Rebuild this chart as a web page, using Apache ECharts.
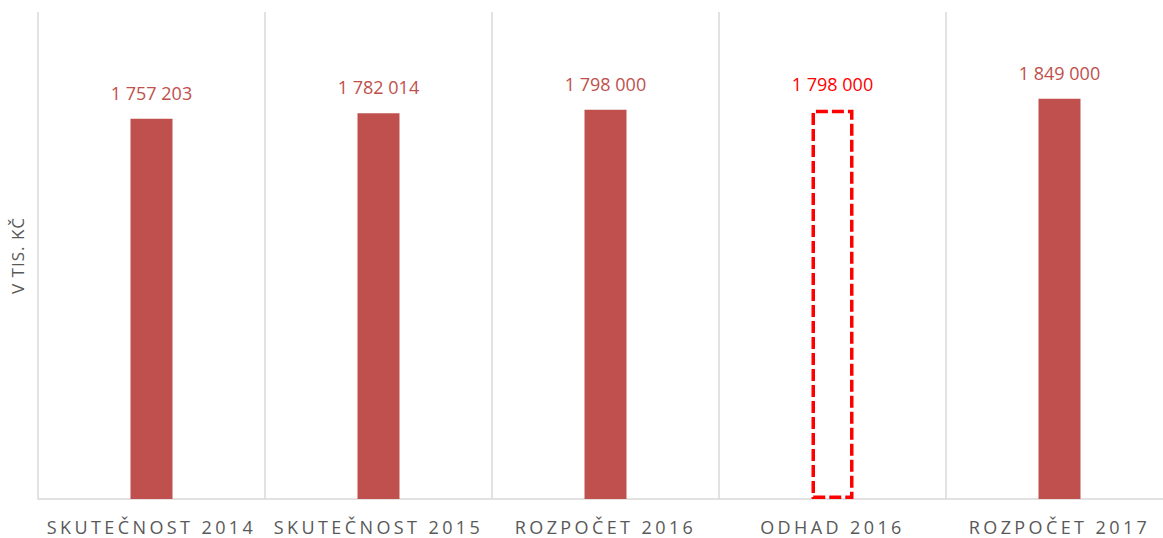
<!DOCTYPE html>
<html>
<head>
<meta charset="utf-8">
<script src="https://cdn.jsdelivr.net/npm/echarts@6/dist/echarts.min.js"></script>
<style>
  html, body { margin: 0; padding: 0; background: #fff; }
  #chart { width: 1163px; height: 538px; }
  /* Excel-like spaced category labels */
  #chart text[fill="#595959"] { letter-spacing: 3.4px; }
  #chart text[fill="#595958"] { letter-spacing: 1px; }
</style>
</head>
<body>
<div id="chart"></div>
<script>
const categories = ['SKUTEČNOST 2014', 'SKUTEČNOST 2015', 'ROZPOČET 2016', 'ODHAD 2016', 'ROZPOČET 2017']
const values = [1757203, 1782014, 1798000, 1798000, 1849000]
const estimateIndex = 3 // odhad – only outlined

const fmt = (v) => String(v).replace(/\B(?=(\d{3})+(?!\d))/g, ' ')

const chart = echarts.init(document.getElementById('chart'), null, { renderer: 'svg' })

chart.setOption({
  animation: false,
  grid: {
    left: 38,
    top: 12,
    bottom: 39,
    width: 1135,
    outerBoundsMode: 'none'
  },
  xAxis: {
    type: 'category',
    data: categories,
    axisTick: { show: false },
    axisLine: { lineStyle: { color: '#d9d9d9', width: 1.5 } },
    splitLine: { show: true, interval: 0, lineStyle: { color: '#d9d9d9', width: 1.5 } },
    axisLabel: {
      interval: 0,
      color: '#595959',
      fontFamily: 'Open Sans',
      fontSize: 18,
      margin: 19
    }
  },
  yAxis: {
    type: 'value',
    min: 0,
    max: 2250000,
    axisLabel: { show: false },
    axisTick: { show: false },
    axisLine: { show: false },
    splitLine: { show: false },
    name: 'V TIS. KČ',
    nameLocation: 'middle',
    nameGap: 12,
    nameTextStyle: {
      color: '#595958',
      fontFamily: 'Open Sans',
      fontSize: 17
    }
  },
  series: [
    {
      type: 'bar',
      barWidth: 42,
      data: values.map((v, i) => i === estimateIndex
        ? {
            value: v,
            itemStyle: {
              color: 'rgba(0,0,0,0)',
              borderColor: '#ff0000',
              borderWidth: 3.5,
              borderType: [12, 4]
            },
            label: { color: '#ff0000' }
          }
        : v),
      itemStyle: { color: '#C0504D' },
      label: {
        show: true,
        position: 'top',
        distance: 17,
        color: '#C0504D',
        fontFamily: 'Open Sans',
        fontSize: 18,
        formatter: (p) => fmt(p.value)
      }
    }
  ]
})
</script>
</body>
</html>
